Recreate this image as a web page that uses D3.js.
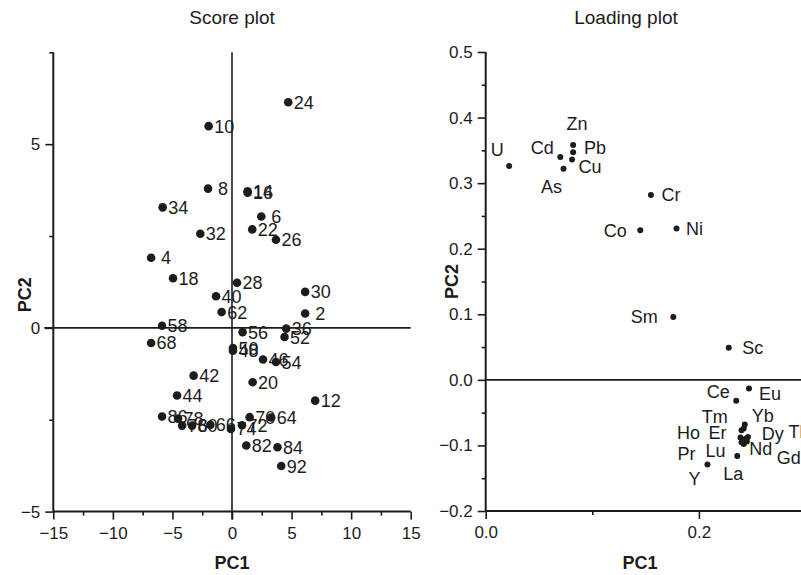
<!DOCTYPE html>
<html>
<head>
<meta charset="utf-8">
<script src="https://cdn.jsdelivr.net/npm/d3@7"></script>
<style>
  body { margin: 0; background: #fff; }
  svg { display: block; font-family: "Liberation Sans", Arial, sans-serif; }
</style>
</head>
<body>
<script>
// score plot: sample ids and their PC1 / PC2 scores
const scoreIds = ['2', '4', '6', '8', '10', '12', '14', '16', '18', '20', '22', '24', '26', '28', '30',
  '32', '34', '36', '40', '42', '44', '46', '48', '50', '52', '54', '56', '58', '62', '64', '66', '68',
  '70', '72', '74', '76', '78', '80', '82', '84', '86', '92']
const scorePC1 = [6.14, -6.79, 2.46, -2.01, -1.96, 6.98, 1.31, 1.31, -4.95, 1.73, 1.70, 4.72, 3.69, 0.42, 6.14,
  -2.66, -5.82, 4.55, -1.34, -3.22, -4.61, 2.60, 0.08, 0.08, 4.41, 3.69, 0.89, -5.87, -0.87, 3.29, -1.82, -6.79,
  1.48, 0.84, -0.09, -4.19, -4.53, -3.35, 1.20, 3.82, -5.87, 4.13]
const scorePC2 = [0.39, 1.91, 3.03, 3.79, 5.49, -1.98, 3.72, 3.68, 1.35, -1.48, 2.68, 6.14, 2.40, 1.23, 0.98,
  2.56, 3.28, -0.02, 0.86, -1.30, -1.84, -0.86, -0.62, -0.55, -0.25, -0.93, -0.12, 0.06, 0.43, -2.44, -2.64, -0.41,
  -2.43, -2.65, -2.75, -2.66, -2.47, -2.66, -3.20, -3.25, -2.41, -3.76]

// loading plot: variables and their loadings
const loadNames = ['U', 'Cd', 'Zn', 'Pb', 'Cu', 'As', 'Cr', 'Co', 'Ni', 'Sm', 'Sc', 'Ce', 'Eu',
  'Yb', 'Tm', 'Er', 'Ho', 'Dy', 'Tb', 'Lu', 'Nd', 'Gd', 'Pr', 'La', 'Y']
const loadPC1 = [0.022, 0.070, 0.082, 0.082, 0.081, 0.073, 0.155, 0.145, 0.179, 0.176, 0.228, 0.235, 0.247,
  0.243, 0.242, 0.240, 0.239, 0.244, 0.246, 0.240, 0.245, 0.242, 0.241, 0.236, 0.208]
const loadPC2 = [0.326, 0.340, 0.358, 0.347, 0.336, 0.322, 0.282, 0.228, 0.231, 0.096, 0.049, -0.032, -0.013,
  -0.068, -0.074, -0.077, -0.088, -0.090, -0.087, -0.095, -0.094, -0.098, -0.092, -0.116, -0.129]

const scoreXTicks = [-15, -10, -5, 0, 5, 10, 15]
const scoreXMinor = [-12.5, -7.5, -2.5, 2.5, 7.5, 12.5]
const scoreYTicks = [-5, 0, 5]
const scoreYMinor = [-2.5, 2.5, 7.5]
const loadXTicks = [0, 0.2]
const loadXMinor = [0.1]
const loadYTicks = [-0.2, -0.1, 0, 0.1, 0.2, 0.3, 0.4, 0.5]
const loadYMinor = [-0.15, -0.05, 0.05, 0.15, 0.25, 0.35, 0.45]

// where each loading label sits, relative to its point (pixels, label centre)
const loadLabelOffset = {
  U: [-12, -17], Cd: [-18, -9], Zn: [4, -22], Pb: [22, -5], Cu: [18, 7], As: [-12, 18],
  Cr: [20, 0], Co: [-25, 0], Ni: [18, 0], Sm: [-29, 0], Sc: [24, 0], Ce: [-18, -9], Eu: [21, 5],
  Yb: [18, -9], Tm: [-29, -12], Er: [-24, 2], Ho: [-52, -5], Dy: [27, -5], Tb: [51, -5],
  Lu: [-26, 8], Nd: [14, 7], Gd: [45, 13], Pr: [-56, 13], La: [-4, 18], Y: [-13, 14]
}

const W = 801, H = 575
const ink = '#1c1c1c'
const tickFont = 17, labelFont = 18

const svg = d3.select(document.body).append('svg')
  .attr('width', W)
  .attr('height', H)
  .attr('viewBox', `0 0 ${W} ${H}`)
  .attr('xmlns', 'http://www.w3.org/2000/svg')

svg.append('rect').attr('width', W).attr('height', H).attr('fill', '#fff')

const xS = d3.scaleLinear([-15, 15], [53.3, 410.7])
const yS = d3.scaleLinear([-5, 7.5], [511.6, 52.3])
const xL = d3.scaleLinear([0, 0.3], [485.7, 805.5])
const yL = d3.scaleLinear([-0.2, 0.5], [511, 52])

function styleAxis(g) {
  g.select('.domain').remove()
  g.selectAll('.tick line').attr('stroke', ink).attr('stroke-width', 1.6)
  g.selectAll('.tick text').attr('fill', ink).attr('font-size', tickFont)
    .attr('font-family', '"Liberation Sans", Arial, sans-serif')
}

function drawAxes(x, y, xt, xm, yt, ym, fmtX, fmtY) {
  const [x0, x1] = x.range()
  const [y0, y1] = y.range()
  const g = svg.append('g')
  g.append('g').attr('transform', `translate(0,${y0})`)
    .call(d3.axisBottom(x).tickValues(xm).tickSize(4).tickFormat('').tickSizeOuter(0))
    .call(styleAxis)
  g.append('g').attr('transform', `translate(0,${y0})`)
    .call(d3.axisBottom(x).tickValues(xt).tickSize(8).tickPadding(7).tickFormat(fmtX).tickSizeOuter(0))
    .call(styleAxis)
  g.append('g').attr('transform', `translate(${x0},0)`)
    .call(d3.axisLeft(y).tickValues(ym).tickSize(4).tickFormat('').tickSizeOuter(0))
    .call(styleAxis)
  g.append('g').attr('transform', `translate(${x0},0)`)
    .call(d3.axisLeft(y).tickValues(yt).tickSize(8).tickPadding(5).tickFormat(fmtY).tickSizeOuter(0))
    .call(styleAxis)
  g.append('line').attr('x1', x0).attr('x2', Math.min(x1, W)).attr('y1', y0).attr('y2', y0)
    .attr('stroke', ink).attr('stroke-width', 2)
  g.append('line').attr('x1', x0).attr('x2', x0).attr('y1', y0).attr('y2', y1)
    .attr('stroke', ink).attr('stroke-width', 2)
}

// ---- score plot
drawAxes(xS, yS, scoreXTicks, scoreXMinor, scoreYTicks, scoreYMinor, d3.format('d'), d3.format('d'))
svg.append('line').attr('x1', xS(-15) - 9).attr('x2', xS(15)).attr('y1', yS(0)).attr('y2', yS(0))
  .attr('stroke', ink).attr('stroke-width', 1.6)
svg.append('line').attr('x1', xS(0)).attr('x2', xS(0)).attr('y1', yS(7.5)).attr('y2', yS(-5) + 8)
  .attr('stroke', ink).attr('stroke-width', 1.6)

const scorePts = svg.append('g')
scoreIds.forEach((id, i) => {
  const cx = xS(scorePC1[i]), cy = yS(scorePC2[i])
  scorePts.append('circle').attr('cx', cx).attr('cy', cy).attr('r', 4.3).attr('fill', ink)
  scorePts.append('text').attr('x', cx + (id.length === 1 ? 10 : 5.5)).attr('y', cy)
    .attr('dy', '0.36em').attr('font-size', labelFont).attr('fill', ink).text(id)
})

svg.append('text').attr('x', xS(0)).attr('y', 24).attr('text-anchor', 'middle')
  .attr('font-size', 19).attr('fill', ink).text('Score plot')
svg.append('text').attr('x', xS(0)).attr('y', 569).attr('text-anchor', 'middle')
  .attr('font-size', 18).attr('font-weight', 'bold').attr('fill', ink).text('PC1')
svg.append('text').attr('transform', `translate(31,${yS(0.9)}) rotate(-90)`).attr('text-anchor', 'middle')
  .attr('font-size', 18).attr('font-weight', 'bold').attr('fill', ink).text('PC2')

// ---- loading plot
drawAxes(xL, yL, loadXTicks, loadXMinor, loadYTicks, loadYMinor, d3.format('.1f'), d3.format('.1f'))
svg.append('line').attr('x1', xL(0)).attr('x2', W).attr('y1', yL(0)).attr('y2', yL(0))
  .attr('stroke', ink).attr('stroke-width', 1.6)

const loadPts = svg.append('g')
loadNames.forEach((name, i) => {
  const cx = xL(loadPC1[i]), cy = yL(loadPC2[i])
  const [dx, dy] = loadLabelOffset[name]
  loadPts.append('circle').attr('cx', cx).attr('cy', cy).attr('r', 3).attr('fill', ink)
  loadPts.append('text').attr('x', cx + dx).attr('y', cy + dy).attr('text-anchor', 'middle')
    .attr('dy', '0.36em').attr('font-size', labelFont).attr('fill', ink).text(name)
})

svg.append('text').attr('x', 626).attr('y', 24).attr('text-anchor', 'middle')
  .attr('font-size', 19).attr('fill', ink).text('Loading plot')
svg.append('text').attr('x', 640).attr('y', 569).attr('text-anchor', 'middle')
  .attr('font-size', 18).attr('font-weight', 'bold').attr('fill', ink).text('PC1')
svg.append('text').attr('transform', `translate(458,${yL(0.15)}) rotate(-90)`).attr('text-anchor', 'middle')
  .attr('font-size', 18).attr('font-weight', 'bold').attr('fill', ink).text('PC2')
</script>
</body>
</html>
